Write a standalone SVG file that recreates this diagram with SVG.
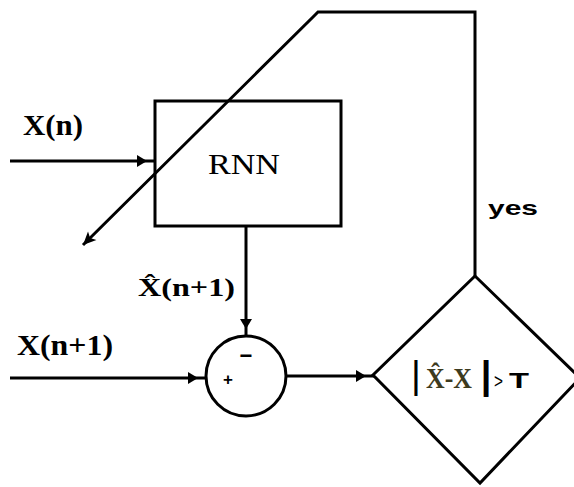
<svg xmlns="http://www.w3.org/2000/svg" width="574" height="487" viewBox="0 0 574 487">
<style>
.ln{fill:none;stroke:#000;stroke-width:3}
.serif{font-family:"Liberation Serif","Times New Roman",serif;fill:#000}
.sans{font-family:"Liberation Sans",Arial,sans-serif;fill:#000}
.b{font-weight:bold}
.ol{fill:#3d3b1f}
</style>
<defs>
<marker id="ah" markerUnits="userSpaceOnUse" markerWidth="20" markerHeight="14" refX="18" refY="6" orient="auto" overflow="visible">
<path d="M0,0 L10,6 L0,12 z" fill="#000"/>
</marker>
<marker id="ah2" markerUnits="userSpaceOnUse" markerWidth="16" markerHeight="14" refX="13" refY="6" orient="auto" overflow="visible">
<path d="M0,0 L13,6 L0,12 L3,6 z" fill="#000"/>
</marker>
</defs>
<rect width="574" height="487" fill="#fff"/>
<g id="connectors">
<line class="ln" x1="10" y1="161" x2="155" y2="161" marker-end="url(#ah)"/>
<line class="ln" x1="10" y1="378" x2="206" y2="378" marker-end="url(#ah)"/>
<line class="ln" x1="246" y1="226" x2="246" y2="337" marker-end="url(#ah)"/>
<line class="ln" x1="286" y1="376" x2="374" y2="376" marker-end="url(#ah)"/>
<polyline class="ln" points="475,276 475,12 318,12 313,17 83,245" marker-end="url(#ah2)"/>
</g>
<g id="rnn">
<rect class="ln" x="155" y="101" width="186" height="125"/>
<text class="serif" x="208" y="174" font-size="29" textLength="72" lengthAdjust="spacingAndGlyphs">RNN</text>
</g>
<g id="sum">
<circle class="ln" cx="246" cy="376" r="40"/>
<text class="sans b" x="246" y="363" font-size="22" text-anchor="middle">−</text>
<text class="sans b" x="228" y="385" font-size="17" text-anchor="middle">+</text>
</g>
<g id="decision">
<polygon class="ln" points="475,276 373,375 480,483 580,378"/>
<text class="sans" x="416" y="388" font-size="38" text-anchor="middle">|</text>
<text class="serif b ol" x="426" y="388" font-size="30" textLength="46" lengthAdjust="spacingAndGlyphs">X̂-X</text>
<text class="sans b" x="486" y="388" font-size="38" text-anchor="middle">|</text>
<text class="sans" x="494" y="388" font-size="20" textLength="9" lengthAdjust="spacingAndGlyphs">&gt;</text>
<text class="sans b" x="509" y="388" font-size="22" textLength="20" lengthAdjust="spacingAndGlyphs">T</text>
</g>
<g id="labels">
<text class="serif b" x="23" y="135" font-size="29" textLength="60" lengthAdjust="spacingAndGlyphs">X(n)</text>
<text class="serif b" x="138" y="296" font-size="25" textLength="97" lengthAdjust="spacingAndGlyphs">X̂(n+1)</text>
<text class="serif b" x="17" y="355" font-size="29" textLength="96" lengthAdjust="spacingAndGlyphs">X(n+1)</text>
<text class="sans b" x="488" y="215" font-size="21" textLength="50" lengthAdjust="spacingAndGlyphs">yes</text>
</g>
</svg>
